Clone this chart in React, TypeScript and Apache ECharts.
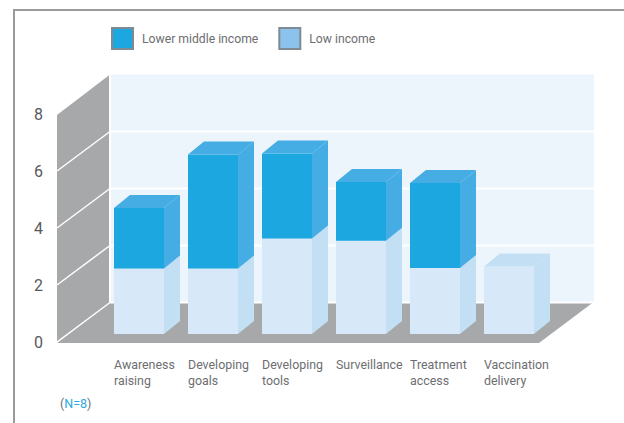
import React, { useEffect, useRef } from "react";
import * as echarts from "echarts";

const categories = [
  "Awareness\nraising",
  "Developing\ngoals",
  "Developing\ntools",
  "Surveillance",
  "Treatment\naccess",
  "Vaccination\ndelivery",
];
const lowIncome = [2.3, 2.3, 3.35, 3.27, 2.32, 2.37];
const lowerMiddleIncome = [2.12, 4.0, 2.98, 2.06, 2.98, 0];
const yTicks = { min: 0, max: 8, interval: 2 };
const yTickValues = [0, 2, 4, 6, 8];

const FONT = 'Roboto, "Liberation Sans", sans-serif';
const WALL = "#A7A8AA";
const BACK = "#ECF4FC";
const BAR_W = 50;
const BAR_LIFT = 8;
const DX = 16;
const DY = 13;
const WALL_DX = 53;
const WALL_DY = 39.5;

function poly(points: number[][], fill: string, z2 = 0) {
  return { type: "polygon", shape: { points }, style: { fill }, z2 };
}

function renderFrame(_params: any, api: any) {
  const [x0, y0] = api.coord([0, 0]);
  const [, y8] = api.coord([0, 8]);
  const xEnd = api.coord([5, 0])[0];
  const wallX = x0 - WALL_DX - 4;
  const backX = wallX + WALL_DX;
  const floorR = xEnd + 55;
  const backR = floorR + WALL_DX + 2;
  const children: any[] = [
    { type: "rect", shape: { x: backX, y: y8 - WALL_DY, width: backR - backX, height: y0 - y8 }, style: { fill: BACK } },
    poly([[wallX, y8 + 1], [backX, y8 - WALL_DY], [backX, y0 - WALL_DY], [wallX, y0]], WALL),
    poly([[wallX, y0 + 1], [floorR, y0 + 1], [backR - 1, y0 - WALL_DY], [backX, y0 - WALL_DY]], WALL),
  ];
  yTickValues.forEach((v) => {
    const [, y] = api.coord([0, v]);
    if (v < 8) {
      children.push({
        type: "line",
        shape: { x1: wallX, y1: y, x2: backX, y2: y - WALL_DY },
        style: { stroke: "#fff", lineWidth: 1.5 },
      });
      children.push({
        type: "line",
        shape: { x1: backX, y1: y - WALL_DY, x2: backR, y2: y - WALL_DY },
        style: { stroke: "#fff", lineWidth: 2 },
      });
    }
  });
  children.push({
    type: "line",
    shape: { x1: backX, y1: y8 - WALL_DY, x2: backX, y2: y0 - WALL_DY },
    style: { stroke: "#fff", lineWidth: 2 },
  });
  return { type: "group", children };
}

function barRenderer(front: string, side: string, top: string) {
  return (_params: any, api: any) => {
    const i = api.value(0);
    const base = api.value(1);
    const size = api.value(2);
    if (!size) return { type: "group", children: [] };
    const [x, yb] = api.coord([i, base]);
    const [, yt] = api.coord([i, base + size]);
    const yB = yb - BAR_LIFT;
    const yT = yt - BAR_LIFT;
    const r = x + BAR_W;
    return {
      type: "group",
      children: [
        poly([[x, yT], [r, yT], [r, yB], [x, yB]], front),
        poly([[r, yT], [r + DX, yT - DY], [r + DX, yB - DY], [r, yB]], side),
        poly([[x, yT], [x + DX, yT - DY], [r + DX, yT - DY], [r, yT]], top),
      ],
    };
  };
}

export default function App() {
  const ref = useRef<HTMLDivElement>(null);
  useEffect(() => {
    const chart = echarts.init(ref.current!, undefined, { renderer: "svg" });
    chart.setOption({
      animation: false,
      backgroundColor: "#fff",
      grid: { left: 114, right: 140, top: 114, bottom: 81 },
      legend: {
        left: 111,
        top: 27,
        padding: 0,
        itemWidth: 21,
        itemHeight: 21,
        itemGap: 20,
        data: ["Lower middle income", "Low income"],
        selectedMode: false,
        icon: "rect",
        textStyle: { fontFamily: FONT, fontSize: 12.2, color: "#6D6E71", padding: [0, 0, 0, 4] },
      },
      xAxis: {
        type: "category",
        boundaryGap: false,
        data: categories,
        axisLine: { show: false },
        axisTick: { show: false },
        axisLabel: {
          interval: 0,
          align: "left",
          verticalAlign: "top",
          margin: 14,
          hideOverlap: false,
          fontFamily: FONT,
          fontSize: 12.4,
          lineHeight: 16,
          color: "#6D6E71",
        },
      },
      yAxis: {
        type: "value",
        ...yTicks,
        axisLine: { show: false },
        axisTick: { show: false },
        splitLine: { show: false },
        axisLabel: { margin: 71, padding: [4, 0, 0, 0], fontFamily: FONT, fontSize: 16, color: "#58595B" },
      },
      series: [
        {
          type: "custom",
          name: "frame",
          silent: true,
          clip: false,
          z: 1,
          data: [[0, 0]],
          renderItem: renderFrame,
        },
        {
          type: "custom",
          name: "Low income",
          clip: false,
          z: 2,
          itemStyle: { color: "#8CC3EC", borderColor: "#7F8A92", borderWidth: 1 },
          data: lowIncome.map((v, i) => [i, 0, v]),
          renderItem: barRenderer("#D7E9F8", "#C3DFF4", "#C3DFF4"),
        },
        {
          type: "custom",
          name: "Lower middle income",
          clip: false,
          z: 3,
          itemStyle: { color: "#1CA7E0", borderColor: "#7F8A92", borderWidth: 1 },
          data: lowerMiddleIncome.map((v, i) => [i, lowIncome[i], v]),
          renderItem: barRenderer("#1CA7E0", "#45ADE3", "#45ADE3"),
        },
      ],
      graphic: [
        {
          type: "polyline",
          shape: { points: [[624, 10], [14, 10], [14, 423]] },
          style: { stroke: "#9A9A9A", lineWidth: 2, fill: "none" },
        },
        {
          type: "text",
          x: 60,
          y: 397,
          style: {
            text: "{p|(}{n|N=8}{p|)}",
            rich: {
              p: { fontFamily: FONT, fontSize: 12.5, fill: "#6D6E71" },
              n: { fontFamily: FONT, fontSize: 12.5, fill: "#29A9E0" },
            },
          },
        },
      ],
    });
    return () => chart.dispose();
  }, []);
  return (
    <div
      ref={ref}
      style={{ position: "absolute", left: 0, top: 0, width: 624, height: 423 }}
    />
  );
}
